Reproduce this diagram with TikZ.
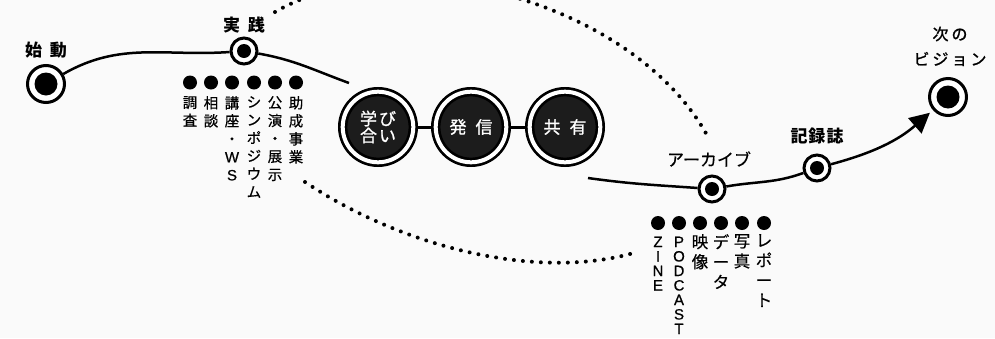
\documentclass[tikz,border=0pt]{standalone}
\usepackage{fontspec}
\setmainfont{Noto Sans CJK JP}
\newfontfamily\semib{Noto Sans CJK JP}[FakeBold=1.2]
\newfontfamily\bodyf{Noto Sans CJK JP}[FakeBold=0.5]
\newfontfamily\latinf{Liberation Sans}[FakeBold=0.6]
\usetikzlibrary{arrows.meta}
\definecolor{bgc}{RGB}{250,250,250}
\definecolor{disc}{RGB}{28,28,28}
\begin{document}
\begin{tikzpicture}[x=1pt,y=-1pt,
  mainline/.style={line width=2.5pt, black},
  dotline/.style={line width=4pt, line cap=round, dash pattern=on 0pt off 9pt},
  bigc/.style={circle, draw=black, line width=2.7pt, double=white, double distance=4pt,
    fill=disc, minimum size=70.6pt, inner sep=0pt, outer sep=4.7pt, text=white,
    font=\fontsize{17}{17}\selectfont\semib, align=center},
  ringL/.style={circle, draw=black, line width=3pt, fill=white, minimum size=37pt, inner sep=0pt,
    path picture={\fill[black] (path picture bounding box.center) circle (11.5pt);}},
  ringS/.style={circle, draw=black, line width=3pt, fill=white, minimum size=26pt, inner sep=0pt,
    path picture={\fill[black] (path picture bounding box.center) circle (7pt);}},
  bdot/.style={circle, fill=black, minimum size=14pt, inner sep=0pt},
  lab/.style={inner sep=0pt, font=\fontsize{17}{18}\selectfont\bfseries},
  labr/.style={inner sep=0pt, font=\fontsize{17}{18}\selectfont\bodyf},
  labm/.style={inner sep=0pt, font=\fontsize{16}{18}\selectfont\semib},
  ptext/.style={anchor=north, inner sep=0pt, align=center, font=\fontsize{14.5}{18}\selectfont\bodyf},
  atext/.style={anchor=north, inner sep=0pt, align=center, font=\fontsize{16.5}{20}\selectfont\bodyf},
  ltext/.style={anchor=north, inner sep=0pt, align=center, font=\latinf\fontsize{15}{14.5}\selectfont},
  link/.style={line width=3pt, black}
]
\useasboundingbox (0,0) rectangle (995,338);
\fill[bgc] (0,0) rectangle (995,338);

% coordinates for free ends
\coordinate (a1) at (349,83);
\coordinate (a2) at (588,178);
\coordinate (d1s) at (275,12);
\coordinate (d1e) at (708,137);
\coordinate (d2s) at (305,182);
\coordinate (d2e) at (637,252);

% dotted curves
\begin{scope}
\clip (0,0) rectangle (995,338);
\draw[dotline] (d1s) .. controls (405,-63) and (637,5) .. (d1e);
\draw[dotline] (d2s) .. controls (405,249) and (541,281) .. (d2e);
\end{scope}

% main nodes
\node[ringL] (start) at (46,84) {};
\node[ringS] (prac) at (244,51) {};
\node[bigc] (lm) at (378,127) {学\hspace{2pt}び\\[0pt]合\hspace{2pt}い};
\node[bigc] (hs) at (471,127) {発\hspace{9pt}信};
\node[bigc] (ky) at (565,127) {共\hspace{9pt}有};
\node[ringS] (arch) at (712,189) {};
\node[ringS] (rec) at (817,168) {};
\node[ringL] (vision) at (948,97) {};

% main line
\draw[mainline] (start) to[out=30,in=184] (prac);
\draw[mainline] (prac) to[out=-10,in=160] (a1);
\draw[link] (lm) -- (hs);
\draw[link] (hs) -- (ky);
\draw[mainline] (a2) to[out=-8,in=176] (arch);
\draw[mainline] (arch) to[out=10,in=200] (rec);
\draw[mainline, shorten >=4pt, -{Triangle[length=20pt,width=20pt]}] (rec) to[out=15,in=221] (vision);

% labels
\node[lab] (tstart) at (46,50) {始\hspace{8pt}動};
\node[lab] (tprac) at (244,25) {実\hspace{8pt}践};
\node[labr] (tarch) at (709,159) {アーカイブ};
\node[lab] (trec) at (817,136) {記\hspace{1pt}録\hspace{1pt}誌};
\node[labm] (tvis1) at (950,34) {次\hspace{3pt}の};
\node[labm] (tvis2) at (950,59) {ビ\hspace{3pt}ジ\hspace{3pt}ョ\hspace{3pt}ン};

% practice bullets
\node[bdot] (pd1) at (190,82.5) {};
\node[bdot] (pd2) at (211,82.5) {};
\node[bdot] (pd3) at (232,82.5) {};
\node[bdot] (pd4) at (254,82.5) {};
\node[bdot] (pd5) at (275,82.5) {};
\node[bdot] (pd6) at (296,82.5) {};
\node[ptext] (pt1) at (190,96) {調\\査};
\node[ptext] (pt2) at (211,96) {相\\談};
\node[ptext] (pt3) at (232,96) {講\\座\\・\\{\latinf\fontsize{15}{18}\selectfont W}\\{\latinf\fontsize{15}{18}\selectfont S}};
\node[ptext] (pt4) at (254,96) {シ\\ン\\ポ\\ジ\\ウ\\ム};
\node[ptext] (pt5) at (275,96) {公\\演\\・\\展\\示};
\node[ptext] (pt6) at (296,96) {助\\成\\事\\業};

% archive bullets
\node[bdot] (ad1) at (658,223) {};
\node[bdot] (ad2) at (679,223) {};
\node[bdot] (ad3) at (700,223) {};
\node[bdot] (ad4) at (721,223) {};
\node[bdot] (ad5) at (742,223) {};
\node[bdot] (ad6) at (764,223) {};
\node[ltext] (at1) at (658,236.5) {Z\\I\\N\\E};
\node[ltext] (at2) at (679,236.5) {P\\O\\D\\C\\A\\S\\T};
\node[atext] (at3) at (700,234) {映\\像};
\node[atext] (at4) at (721,234) {デ\\ー\\タ};
\node[atext] (at5) at (742,234) {写\\真};
\node[atext] (at6) at (764,234) {レ\\ポ\\ー\\ト};
\end{tikzpicture}
\end{document}
